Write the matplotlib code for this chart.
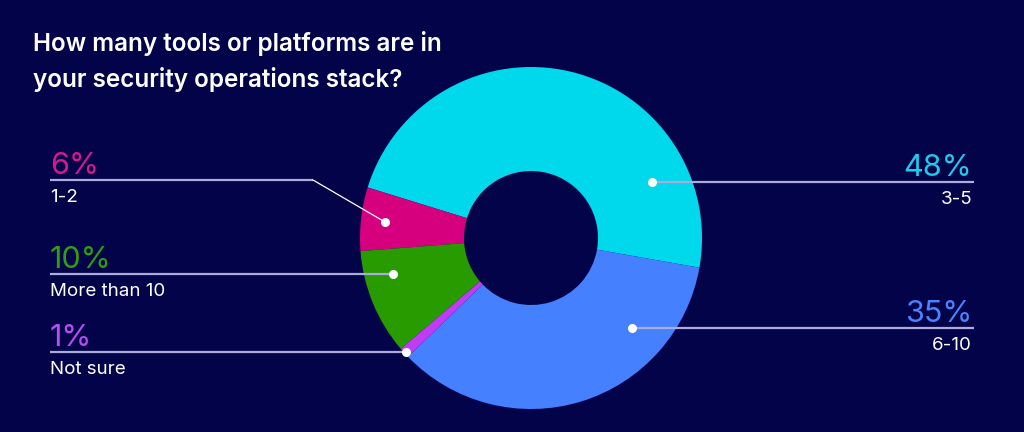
import matplotlib
matplotlib.use("Agg")
import matplotlib.pyplot as plt

# ---- data ----
categories = ["3-5", "1-2", "More than 10", "Not sure", "6-10"]
values = [48, 6, 10, 1, 35]
pct_labels = ["48%", "6%", "10%", "1%", "35%"]
slice_colors = ["#00d8ec", "#d6007f", "#279b00", "#c03cf4", "#4480ff"]
text_colors = ["#1ecbe8", "#d8188c", "#2e9e12", "#b94cf2", "#4a82ff"]
title_lines = ["How many tools or platforms are in", "your security operations stack?"]

W, H = 1024, 432
BG = "#03034a"
LINE = "#aeabdc"

plt.rcParams['font.family'] = ['Inter', 'DejaVu Sans']

fig = plt.figure(figsize=(W / 100, H / 100), dpi=100, facecolor=BG)
ax = fig.add_axes([0, 0, 1, 1])
ax.set_facecolor(BG)

def Y(y):
    return H - y

cx, cy, R, r_in = 531, 238, 171, 67
ax.pie(values, colors=slice_colors, startangle=-10, counterclock=True,
       radius=R, center=(cx, Y(cy)),
       wedgeprops=dict(width=R - r_in, linewidth=0))

ax.set_xlim(0, W)
ax.set_ylim(0, H)
ax.set_aspect('equal')
ax.axis('off')

# title
ax.text(33, Y(51), title_lines[0], color="white", fontsize=17.5, fontweight="semibold",
        ha="left", va="baseline")
ax.text(33, Y(87), title_lines[1], color="white", fontsize=17.5, fontweight="semibold",
        ha="left", va="baseline")

# label layout: (side, line_y, line_x_outer, dot_x, dot_y, elbow_x)
layout = {
    "3-5": ("right", 182, 974, 652, 182, None),
    "1-2": ("left", 180, 50, 385, 222, 313),
    "More than 10": ("left", 274, 50, 393, 274, None),
    "Not sure": ("left", 352, 50, 406, 352, None),
    "6-10": ("right", 328, 974, 632, 328, None),
}

for cat, pct, tcol in zip(categories, pct_labels, text_colors):
    side, ly, lx, dx, dy, elbow = layout[cat]
    if elbow is not None:
        ax.plot([lx, elbow], [Y(ly), Y(ly)], color=LINE, lw=1.6, solid_capstyle='butt', zorder=3)
        ax.plot([elbow, dx], [Y(ly), Y(dy)], color="white", lw=0.9, zorder=3)
    else:
        ax.plot([lx, dx], [Y(ly), Y(dy)], color=LINE, lw=1.6, solid_capstyle='butt', zorder=3)
    ax.plot([dx], [Y(dy)], marker='o', ms=6.5, color="white", mec="none", zorder=4)
    if side == "left":
        tx, ha = 50, "left"
    else:
        tx, ha = 972, "right"
    ax.text(tx, Y(ly - 6.5), pct, color=tcol, fontsize=22, ha=ha, va="baseline", zorder=5)
    ax.text(tx, Y(ly + 22), cat, color="white", fontsize=13.5, ha=ha, va="baseline", zorder=5)

fig.savefig("out.png", dpi=100, facecolor=BG)
